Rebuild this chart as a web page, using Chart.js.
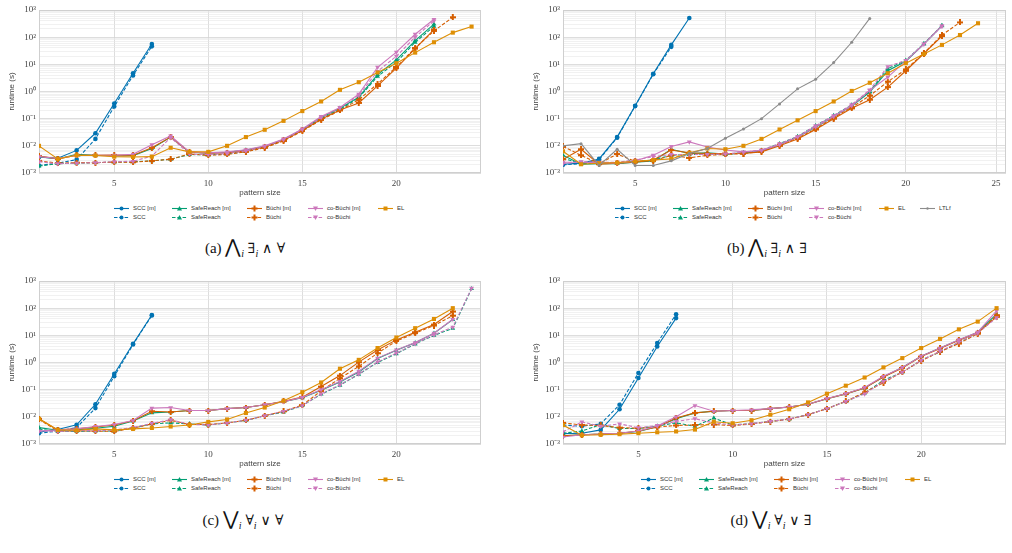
<!DOCTYPE html>
<html>
<head>
<meta charset="utf-8">
<script src="https://cdn.jsdelivr.net/npm/chart.js@4.4.1/dist/chart.umd.min.js"></script>
<style>
  body { margin: 0; width: 1012px; height: 553px; overflow: hidden; background: #fff; position: relative;
         font-family: 'Liberation Sans', Arial, sans-serif; }
  canvas { position: absolute; }
  .leg { position: absolute; display: flex; align-items: center; height: 8px; font-size: 6px; color: #333; white-space: nowrap; }
  .leg svg { display: block; margin-right: 4px; }
  .cap { position: absolute; transform: translate(-50%, -50%); font-family: 'Liberation Serif', 'DejaVu Serif', serif;
         font-size: 15px; color: #111; white-space: nowrap; }
  .cap .op { font-family: 'DejaVu Serif', serif; font-size: 19px; }
  .cap sub { font-size: 10px; font-style: italic; }
  .cap .q { font-family: 'DejaVu Serif', serif; font-size: 14px; }
</style>
</head>
<body>
<canvas id="chartA"></canvas>
<canvas id="chartB"></canvas>
<canvas id="chartC"></canvas>
<canvas id="chartD"></canvas>

<script>
// x values (pattern size) and axis ticks
const PATTERN_SIZES = [1,2,3,4,5,6,7,8,9,10,11,12,13,14,15,16,17,18,19,20,21,22,23,24];
const X_TICKS_A = [5, 10, 15, 20];
const X_TICKS_B = [5, 10, 15, 20, 25];
const Y_TICK_LABELS = ['10⁻³', '10⁻²', '10⁻¹', '10⁰', '10¹', '10²', '10³'];

// (a) ⋀i ∃i ∧ ∀
const A_SCC_M     = [0.0038,0.0035,0.0068,0.029,0.36,4.7,56];
const A_SCC       = [0.0019,0.0023,0.0031,0.018,0.28,3.9,46];
const A_SAFE_M    = [0.0040,0.0033,0.0049,0.0045,0.0043,0.0043,0.0080,0.021,0.0058,0.0054,0.0058,0.0070,0.0095,0.017,0.040,0.11,0.24,0.62,4.2,14.5,75,300];
const A_SAFE      = [0.0018,0.0022,0.0023,0.0024,0.0025,0.0026,0.0028,0.0032,0.0048,0.0046,0.0050,0.0062,0.0090,0.016,0.038,0.10,0.22,0.58,3.6,12,65,250];
const A_BUCHI_M   = [0.0042,0.0033,0.0045,0.0045,0.0046,0.0045,0.0085,0.021,0.0060,0.0054,0.0055,0.0065,0.0090,0.016,0.037,0.095,0.21,0.38,1.6,7.2,38,190];
const A_BUCHI     = [0.0028,0.0023,0.0024,0.0024,0.0025,0.0025,0.0028,0.0032,0.0050,0.0045,0.0048,0.0060,0.0085,0.015,0.035,0.09,0.20,0.50,1.9,8.0,40,170,540];
const A_COBUCHI_M = [0.0040,0.0034,0.0044,0.0045,0.0045,0.0049,0.011,0.023,0.0060,0.0055,0.0060,0.0072,0.010,0.018,0.042,0.12,0.26,0.80,7.8,28,128,455];
const A_COBUCHI   = [0.0026,0.0022,0.0023,0.0024,0.0026,0.0027,0.0042,0.020,0.0050,0.0048,0.0052,0.0065,0.0095,0.017,0.040,0.11,0.25,0.72,5.5,20,100,400];
const A_EL        = [0.010,0.0033,0.0045,0.0044,0.0040,0.0039,0.0040,0.0085,0.0060,0.0060,0.010,0.021,0.039,0.083,0.19,0.43,1.15,2.2,5.0,11,27,65,147,245];

// (b) ⋀i ∃i ∧ ∃
const B_SCC_M     = [0.0021,0.0023,0.0033,0.021,0.30,4.5,52,510];
const B_SCC       = [0.0020,0.0022,0.0031,0.020,0.29,4.3,44];
const B_SAFE_M    = [0.0045,0.0021,0.0022,0.0022,0.0025,0.0028,0.0075,0.0052,0.0055,0.0050,0.0055,0.0065,0.011,0.021,0.048,0.12,0.29,0.95,5.8,13,55,260];
const B_SAFE      = [0.0035,0.0022,0.0023,0.0023,0.0026,0.0030,0.0045,0.0048,0.0050,0.0048,0.0055,0.0068,0.012,0.022,0.055,0.13,0.32,1.0,7.0,14,58,270];
const B_BUCHI_M   = [0.0032,0.0075,0.0021,0.0023,0.0025,0.0030,0.0070,0.0055,0.0052,0.0052,0.0052,0.0060,0.010,0.018,0.040,0.10,0.24,0.50,1.45,5.8,25,110];
const B_BUCHI     = [0.0095,0.0045,0.0022,0.0050,0.0027,0.0028,0.0045,0.0036,0.0045,0.0048,0.0052,0.0062,0.011,0.019,0.042,0.11,0.26,0.70,2.3,6.5,26,120,350];
const B_COBUCHI_M = [0.0025,0.0025,0.0024,0.0023,0.0028,0.0045,0.0095,0.014,0.0090,0.0070,0.0060,0.0068,0.011,0.021,0.050,0.12,0.30,1.1,3.4,13.5,55,265];
const B_COBUCHI   = [0.0022,0.0026,0.0025,0.0025,0.0030,0.0040,0.0048,0.0048,0.0048,0.0050,0.0058,0.0070,0.012,0.022,0.055,0.13,0.33,1.15,8.3,14,57,250];
const B_EL        = [0.0063,0.0021,0.0023,0.0024,0.0027,0.0030,0.0033,0.0055,0.0080,0.0075,0.010,0.018,0.040,0.087,0.19,0.43,1.05,2.1,4.7,11,24,52,120,325];
const B_LTLF      = [0.010,0.012,0.0019,0.0075,0.0019,0.0019,0.0028,0.0052,0.0080,0.019,0.042,0.10,0.35,1.25,2.8,11.6,65,490];

// (c) ⋁i ∀i ∨ ∀
const C_SCC_M     = [0.0028,0.0034,0.0051,0.029,0.38,4.9,56];
const C_SCC       = [0.0025,0.0030,0.0040,0.021,0.31,4.6,54];
const C_SAFE_M    = [0.0040,0.0032,0.0033,0.0038,0.0045,0.0070,0.014,0.015,0.017,0.017,0.020,0.022,0.028,0.036,0.050,0.095,0.19,0.45,1.4,2.8,5.3,12,38];
const C_SAFE      = [0.0035,0.0029,0.0029,0.0030,0.0030,0.0039,0.0055,0.0060,0.0055,0.0050,0.0060,0.0074,0.011,0.015,0.026,0.068,0.145,0.37,1.0,2.1,4.8,10,18,520];
const C_BUCHI_M   = [0.0085,0.0033,0.0036,0.0042,0.0050,0.0072,0.016,0.015,0.017,0.017,0.020,0.022,0.028,0.037,0.053,0.13,0.33,1.03,2.9,6.8,13,25,75];
const C_BUCHI     = [0.0080,0.0030,0.0030,0.0030,0.0029,0.0038,0.0055,0.0075,0.0052,0.0052,0.0060,0.0075,0.011,0.016,0.027,0.09,0.26,0.72,2.2,6.2,12,23,53];
const C_COBUCHI_M = [0.0030,0.0033,0.0036,0.0044,0.0052,0.0073,0.021,0.022,0.017,0.017,0.020,0.022,0.028,0.036,0.052,0.10,0.20,0.48,1.45,2.9,5.4,12,39];
const C_COBUCHI   = [0.0030,0.0029,0.0031,0.0031,0.0033,0.0040,0.0058,0.0078,0.0053,0.0050,0.0060,0.0075,0.011,0.016,0.026,0.07,0.15,0.38,1.05,2.2,4.9,10.4,20,540];
const C_EL        = [0.0085,0.0033,0.0032,0.0036,0.0033,0.0036,0.0039,0.0044,0.0050,0.0065,0.0080,0.0138,0.022,0.039,0.081,0.184,0.59,1.25,3.4,8.3,18.3,40,100];

// (d) ⋁i ∀i ∨ ∃
const D_SCC_M     = [0.0024,0.0025,0.0033,0.019,0.27,3.9,43];
const D_SCC       = [0.0050,0.0045,0.0055,0.028,0.41,5.2,60];
const D_SAFE_M    = [0.0020,0.0022,0.0023,0.0025,0.0029,0.0043,0.0085,0.014,0.016,0.017,0.017,0.020,0.023,0.029,0.046,0.070,0.115,0.30,0.65,1.7,3.4,6.8,13,60];
const D_SAFE      = [0.0025,0.0030,0.0052,0.0037,0.0037,0.0046,0.0060,0.0045,0.0090,0.0050,0.0056,0.0068,0.0083,0.012,0.020,0.037,0.074,0.22,0.44,1.2,2.5,5.4,12,50];
const D_BUCHI_M   = [0.0020,0.0022,0.0023,0.0025,0.0030,0.0042,0.0090,0.014,0.016,0.017,0.017,0.020,0.023,0.029,0.046,0.070,0.115,0.29,0.63,1.65,3.3,6.6,12.5,48];
const D_BUCHI     = [0.0060,0.0050,0.0048,0.0040,0.0038,0.0042,0.0048,0.0050,0.0052,0.0048,0.0055,0.0067,0.0082,0.012,0.020,0.037,0.080,0.18,0.45,1.15,2.5,5.0,11.5,55];
const D_COBUCHI_M = [0.0018,0.0022,0.0023,0.0025,0.0030,0.0046,0.010,0.026,0.016,0.017,0.018,0.020,0.023,0.029,0.047,0.071,0.12,0.31,0.66,1.7,3.4,6.9,13,80];
const D_COBUCHI   = [0.0028,0.0065,0.0045,0.0055,0.0040,0.0048,0.0068,0.0085,0.0060,0.0050,0.0056,0.0068,0.0083,0.012,0.020,0.037,0.070,0.20,0.44,1.2,2.6,5.6,12,45];
const D_EL        = [0.0050,0.0021,0.0022,0.0023,0.0025,0.0027,0.0029,0.0034,0.0066,0.0058,0.0075,0.012,0.019,0.034,0.071,0.14,0.28,0.66,1.45,3.4,7.4,16.6,32,100];

const COLORS = { scc: '#0173b2', safe: '#029e73', buchi: '#d55e00', cobuchi: '#cc78bc', el: '#de8f05', ltlf: '#8c8c8c' };
const GRID_MAJOR = '#d4d4d4';
const GRID_MINOR = '#e8e8e8';

// legend/series description: label, colour key, marker, dashed
const SERIES = [
  ['SCC [m]', 'scc', 'circle', false],
  ['SCC', 'scc', 'circle', true],
  ['SafeReach [m]', 'safe', 'tri', false],
  ['SafeReach', 'safe', 'tri', true],
  ['Büchi [m]', 'buchi', 'plus', false],
  ['Büchi', 'buchi', 'plus', true],
  ['co-Büchi [m]', 'cobuchi', 'tridown', false],
  ['co-Büchi', 'cobuchi', 'tridown', true],
  ['EL', 'el', 'square', false],
  ['LTLf', 'ltlf', 'dot', false]
];

function plusImg(color) {
  const c = document.createElement('canvas');
  c.width = 6; c.height = 6;
  const g = c.getContext('2d');
  g.fillStyle = color;
  g.fillRect(2, 0, 2, 6);
  g.fillRect(0, 2, 6, 2);
  return c;
}

function isDecade(v) {
  const l = Math.log10(v);
  return Math.abs(l - Math.round(l)) < 1e-6;
}

const Y_GRID = [];
for (let e = -3; e < 3; e++) for (let m = 1; m < 10; m++) Y_GRID.push(m * Math.pow(10, e));
Y_GRID.push(1000);

const framePlugin = {
  id: 'frame',
  beforeDatasetsDraw(chart) {
    const { ctx, chartArea: a } = chart;
    ctx.save();
    ctx.strokeStyle = '#cfcfcf';
    ctx.lineWidth = 1;
    ctx.strokeRect(a.left + 0.5, a.top + 0.5, a.right - a.left - 1, a.bottom - a.top - 1);
    ctx.restore();
  }
};

function makeDataset(idx, arr, n) {
  const [label, ck, marker, dashed] = SERIES[idx];
  const color = COLORS[ck];
  const pts = [];
  arr.forEach((v, k) => { if (v != null) pts.push({ x: PATTERN_SIZES[k], y: v }); });
  let style = 'circle', radius = 2.3, rot = 0;
  if (marker === 'tri') { style = 'triangle'; radius = 2.8; }
  if (marker === 'tridown') { style = 'triangle'; radius = 2.8; rot = 180; }
  if (marker === 'square') { style = 'rect'; radius = 2.9; }
  if (marker === 'plus') { style = plusImg(color); }
  if (marker === 'dot') { radius = 1.5; }
  return {
    label,
    data: pts,
    borderColor: color,
    backgroundColor: color,
    borderWidth: 1.1,
    borderDash: dashed ? [3.5, 1.8] : [],
    pointStyle: style,
    pointRadius: radius,
    pointRotation: rot,
    pointBorderWidth: 0,
    pointHoverRadius: radius,
    tension: 0,
    fill: false,
    order: n - idx
  };
}

function makeChart(id, box, xMax, xTicks, arrays) {
  const cv = document.getElementById(id);
  const w = 39 + (box.r - box.l) + 6;
  cv.width = w; cv.height = 200;
  cv.style.left = (box.l - 39) + 'px';
  cv.style.top = (box.t - 10) + 'px';

  const datasets = arrays.map((arr, i) => makeDataset(i, arr, arrays.length));

  new Chart(cv.getContext('2d'), {
    type: 'line',
    data: { datasets },
    options: {
      responsive: false,
      animation: false,
      layout: { padding: { top: 10, right: 6, left: 0, bottom: 0 } },
      plugins: { legend: { display: false }, tooltip: { enabled: false } },
      scales: {
        x: {
          type: 'linear', min: 1, max: xMax,
          afterBuildTicks: s => { s.ticks = xTicks.map(v => ({ value: v })); },
          afterFit: s => { s.height = 27; },
          grid: { color: GRID_MAJOR, lineWidth: 0.8, drawTicks: false },
          border: { display: false },
          ticks: { autoSkip: false, maxRotation: 0, padding: 5, color: '#444',
                   font: { family: 'Liberation Serif', size: 9 } },
          title: { display: true, text: 'pattern size', color: '#444', padding: { top: 0, bottom: 2 },
                   font: { family: 'Liberation Sans', size: 8 } }
        },
        y: {
          type: 'logarithmic', min: 0.001, max: 1000,
          afterBuildTicks: s => { s.ticks = Y_GRID.map(v => ({ value: v })); },
          afterFit: s => { s.width = 39; },
          grid: {
            color: c => (c.tick && isDecade(c.tick.value)) ? GRID_MAJOR : GRID_MINOR,
            lineWidth: c => (c.tick && isDecade(c.tick.value)) ? 0.8 : 0.6,
            drawTicks: false
          },
          border: { display: false },
          ticks: {
            autoSkip: false, padding: 3, color: '#444',
            font: { family: 'Liberation Serif', size: 9 },
            callback: v => isDecade(v) ? Y_TICK_LABELS[Math.round(Math.log10(v)) + 3] : ''
          },
          title: { display: true, text: 'runtime (s)', color: '#444', padding: { top: 7, bottom: 0 },
                   font: { family: 'Liberation Sans', size: 8 } }
        }
      }
    },
    plugins: [framePlugin]
  });
}

makeChart('chartA', { l: 39, r: 481, t: 10 }, 24.5, X_TICKS_A,
  [A_SCC_M, A_SCC, A_SAFE_M, A_SAFE, A_BUCHI_M, A_BUCHI, A_COBUCHI_M, A_COBUCHI, A_EL]);
makeChart('chartB', { l: 563, r: 1006, t: 10 }, 25.55, X_TICKS_B,
  [B_SCC_M, B_SCC, B_SAFE_M, B_SAFE, B_BUCHI_M, B_BUCHI, B_COBUCHI_M, B_COBUCHI, B_EL, B_LTLF]);
makeChart('chartC', { l: 39, r: 481, t: 281 }, 24.5, X_TICKS_A,
  [C_SCC_M, C_SCC, C_SAFE_M, C_SAFE, C_BUCHI_M, C_BUCHI, C_COBUCHI_M, C_COBUCHI, C_EL]);
makeChart('chartD', { l: 563, r: 1006, t: 281 }, 24.5, X_TICKS_A,
  [D_SCC_M, D_SCC, D_SAFE_M, D_SAFE, D_BUCHI_M, D_BUCHI, D_COBUCHI_M, D_COBUCHI, D_EL]);

// legends (two rows, columns of [m] / plain variants)
function markerSvg(marker, color) {
  switch (marker) {
    case 'circle': return `<circle cx="7.5" cy="3.5" r="2" fill="${color}"/>`;
    case 'tri': return `<polygon points="7.5,1 10,5.5 5,5.5" fill="${color}"/>`;
    case 'tridown': return `<polygon points="5,1.5 10,1.5 7.5,6" fill="${color}"/>`;
    case 'square': return `<rect x="5.5" y="1.5" width="4" height="4" fill="${color}"/>`;
    case 'plus': return `<path d="M6.5 0.5h2v2h2v2h-2v2h-2v-2h-2v-2h2z" fill="${color}"/>`;
    default: return `<circle cx="7.5" cy="3.5" r="1.2" fill="${color}"/>`;
  }
}
const LEG_COLS = [0, 58, 133, 194, 264, 305];
const LEG_POS = [[0, 0], [0, 1], [1, 0], [1, 1], [2, 0], [2, 1], [3, 0], [3, 1], [4, 0], [5, 0]];

function makeLegend(left, rowY, count) {
  for (let i = 0; i < count; i++) {
    const [label, ck, marker, dashed] = SERIES[i];
    const color = COLORS[ck];
    const [col, row] = LEG_POS[i];
    const d = document.createElement('div');
    d.className = 'leg';
    d.style.left = (left + LEG_COLS[col]) + 'px';
    d.style.top = (rowY + row * 9 - 4) + 'px';
    const dash = dashed ? 'stroke-dasharray="3.5 1.8"' : '';
    d.innerHTML = `<svg width="15" height="7"><line x1="0" y1="3.5" x2="15" y2="3.5" stroke="${color}" stroke-width="1.1" ${dash}/>${markerSvg(marker, color)}</svg><span>${label}</span>`;
    document.body.appendChild(d);
  }
}
makeLegend(114, 208, 9);
makeLegend(615, 208, 10);
makeLegend(114, 479, 9);
makeLegend(641, 479, 9);

// captions
function makeCaption(cx, cy, html) {
  const d = document.createElement('div');
  d.className = 'cap';
  d.style.left = cx + 'px';
  d.style.top = cy + 'px';
  d.innerHTML = html;
  document.body.appendChild(d);
}
makeCaption(245, 247, '(a) <span class="op">⋀</span><sub>i</sub> <span class="q">∃</span><sub>i</sub> <span class="q">∧ ∀</span>');
makeCaption(767, 247, '(b) <span class="op">⋀</span><sub>i</sub> <span class="q">∃</span><sub>i</sub> <span class="q">∧ ∃</span>');
makeCaption(243, 519, '(c) <span class="op">⋁</span><sub>i</sub> <span class="q">∀</span><sub>i</sub> <span class="q">∨ ∀</span>');
makeCaption(771, 519, '(d) <span class="op">⋁</span><sub>i</sub> <span class="q">∀</span><sub>i</sub> <span class="q">∨ ∃</span>');
</script>
</body>
</html>
